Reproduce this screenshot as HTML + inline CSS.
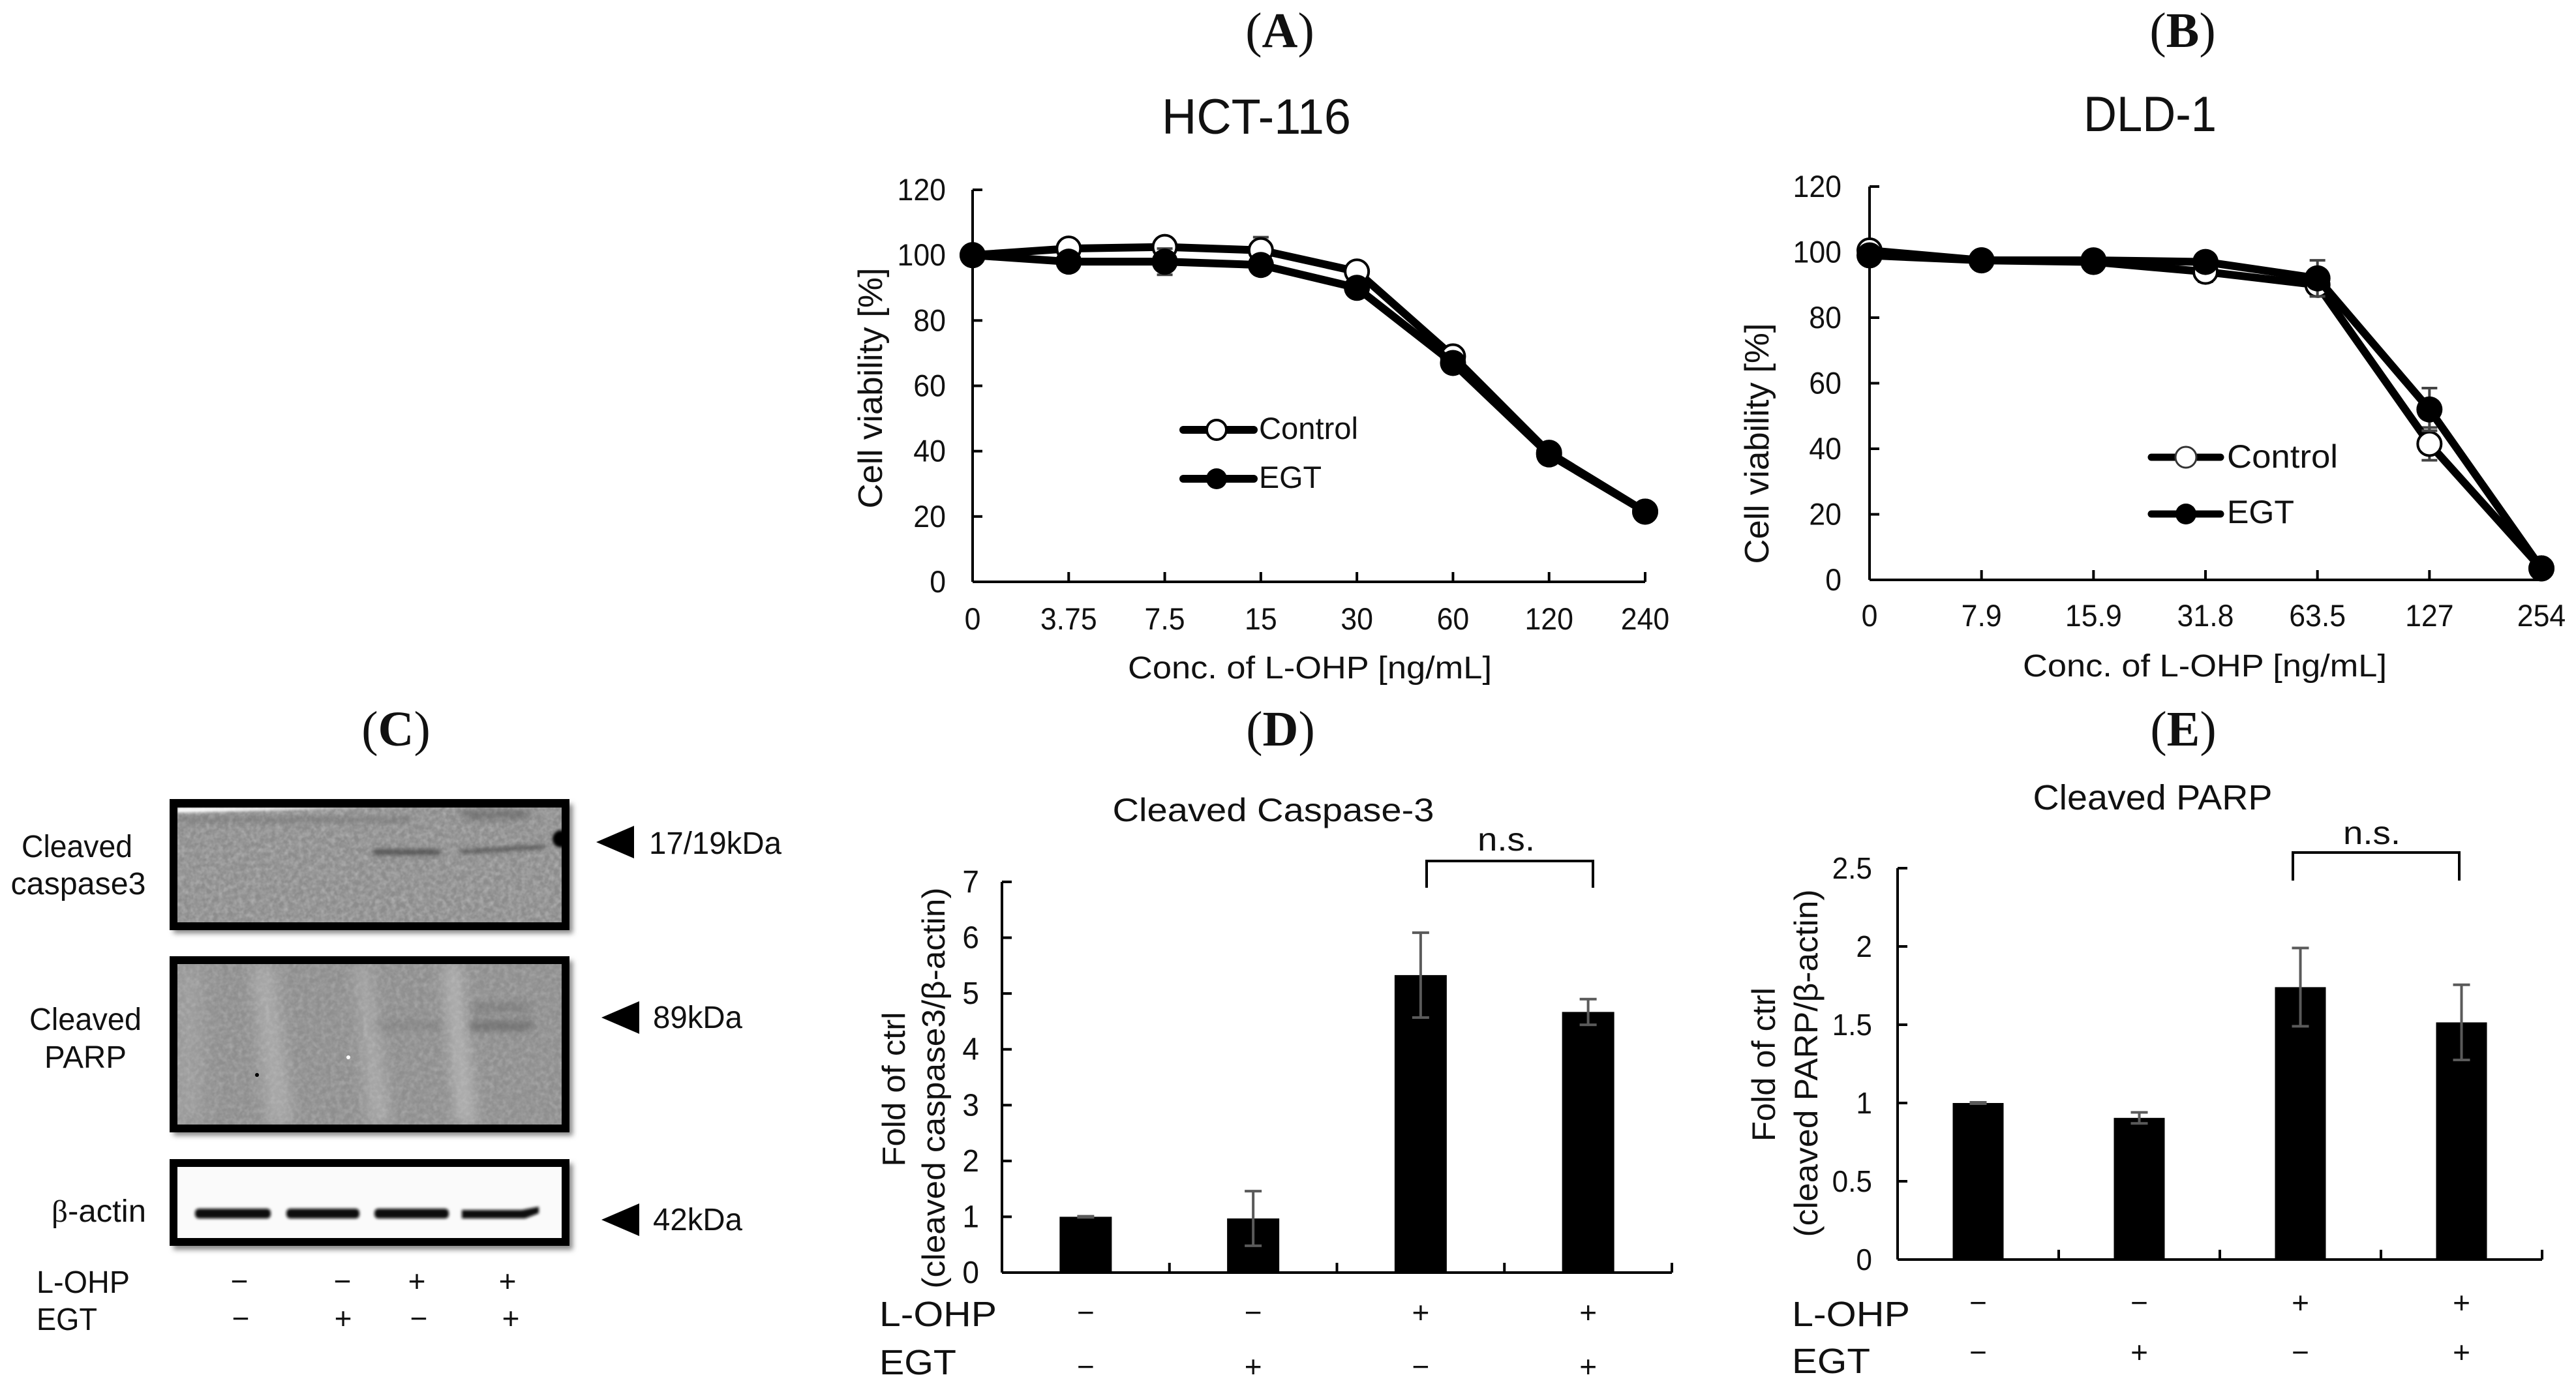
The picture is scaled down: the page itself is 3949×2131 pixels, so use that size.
<!DOCTYPE html>
<html lang="en">
<head>
<meta charset="utf-8">
<title>L-OHP cell viability and apoptosis markers</title>
<style>
html,body{margin:0;padding:0;background:#fff;}
body{width:3949px;height:2131px;overflow:hidden;}
svg{display:block;}
text{font-family:"Liberation Sans",Arial,sans-serif;fill:#111;}
.serif{font-family:"Liberation Serif","Times New Roman",serif;font-size:76px;}
.serif tspan.b{font-weight:bold;}
</style>
</head>
<body>
<svg id="fig" xmlns="http://www.w3.org/2000/svg" width="3949" height="2131" viewBox="0 0 3949 2131">
  <defs>
    <filter id="noise" x="0" y="0" width="100%" height="100%">
      <feTurbulence type="fractalNoise" baseFrequency="0.12" numOctaves="2" seed="4"/>
      <feColorMatrix type="matrix" values="0 0 0 0 0.42  0 0 0 0 0.42  0 0 0 0 0.42  1.8 0 0 0 -0.6"/>
    </filter>
    <filter id="noise2" x="0" y="0" width="100%" height="100%">
      <feTurbulence type="fractalNoise" baseFrequency="0.14" numOctaves="2" seed="9"/>
      <feColorMatrix type="matrix" values="0 0 0 0 0.72  0 0 0 0 0.72  0 0 0 0 0.72  1.4 0 0 0 -0.55"/>
    </filter>
    <filter id="blur2" filterUnits="userSpaceOnUse" x="0" y="1100" width="1000" height="900"><feGaussianBlur stdDeviation="2"/></filter>
    <filter id="blur3" filterUnits="userSpaceOnUse" x="0" y="1100" width="1000" height="900"><feGaussianBlur stdDeviation="3.5"/></filter>
    <filter id="blur4" filterUnits="userSpaceOnUse" x="0" y="1100" width="1000" height="900"><feGaussianBlur stdDeviation="4"/></filter>
    <filter id="blur6" filterUnits="userSpaceOnUse" x="0" y="1100" width="1000" height="900"><feGaussianBlur stdDeviation="6"/></filter>
    <filter id="blur8" filterUnits="userSpaceOnUse" x="0" y="1100" width="1000" height="900"><feGaussianBlur stdDeviation="11"/></filter>
    <filter id="blur14" filterUnits="userSpaceOnUse" x="0" y="1100" width="1000" height="900"><feGaussianBlur stdDeviation="16"/></filter>
    <clipPath id="clip1"><rect x="272" y="1238" width="589" height="176"/></clipPath>
    <clipPath id="clip2"><rect x="272" y="1478" width="589" height="246"/></clipPath>
    <clipPath id="clip3"><rect x="272" y="1789" width="589" height="109"/></clipPath>
  </defs>

  <!-- panel letters -->
  <text class="serif" x="1962" y="72" text-anchor="middle">(<tspan class="b">A</tspan>)</text>
  <text class="serif" x="3346" y="72" text-anchor="middle">(<tspan class="b">B</tspan>)</text>
  <text class="serif" x="607" y="1143" text-anchor="middle">(<tspan class="b">C</tspan>)</text>
  <text class="serif" x="1963" y="1143" text-anchor="middle">(<tspan class="b">D</tspan>)</text>
  <text class="serif" x="3347" y="1143" text-anchor="middle">(<tspan class="b">E</tspan>)</text>

  <!-- chart A static text -->
  <g id="chartA">
    <text x="1926" y="205" font-size="76" text-anchor="middle" textLength="290" lengthAdjust="spacingAndGlyphs">HCT-116</text>
    <text x="2008" y="1040" font-size="48" text-anchor="middle" textLength="558" lengthAdjust="spacingAndGlyphs">Conc. of L-OHP [ng/mL]</text>
    <text transform="translate(1352 595) rotate(-90)" font-size="52" text-anchor="middle" textLength="369" lengthAdjust="spacingAndGlyphs">Cell viability [%]</text>
    <g>
      <line x1="1814" y1="659" x2="1922" y2="659" stroke="#000" stroke-width="12" stroke-linecap="round"/>
      <circle cx="1865" cy="659" r="15" fill="#fff" stroke="#000" stroke-width="4"/>
      <text x="1930" y="673" font-size="47" textLength="152" lengthAdjust="spacingAndGlyphs">Control</text>
      <line x1="1814" y1="734" x2="1922" y2="734" stroke="#000" stroke-width="12" stroke-linecap="round"/>
      <circle cx="1865" cy="734" r="16" fill="#000"/>
      <text x="1930" y="748" font-size="47" textLength="96" lengthAdjust="spacingAndGlyphs">EGT</text>
    </g>
  </g>

  <!-- chart B static text -->
  <g id="chartB">
    <text x="3296" y="201" font-size="76" text-anchor="middle" textLength="204" lengthAdjust="spacingAndGlyphs">DLD-1</text>
    <text x="3380" y="1037" font-size="48" text-anchor="middle" textLength="558" lengthAdjust="spacingAndGlyphs">Conc. of L-OHP [ng/mL]</text>
    <text transform="translate(2711 680) rotate(-90)" font-size="52" text-anchor="middle" textLength="369" lengthAdjust="spacingAndGlyphs">Cell viability [%]</text>
    <g>
      <line x1="3298" y1="701" x2="3404" y2="701" stroke="#000" stroke-width="11" stroke-linecap="round"/>
      <circle cx="3351" cy="701" r="16" fill="#fff" stroke="#333" stroke-width="3"/>
      <text x="3414" y="717" font-size="50" textLength="170" lengthAdjust="spacingAndGlyphs">Control</text>
      <line x1="3298" y1="788" x2="3404" y2="788" stroke="#000" stroke-width="11" stroke-linecap="round"/>
      <circle cx="3351" cy="788" r="16" fill="#000"/>
      <text x="3414" y="802" font-size="50" textLength="103" lengthAdjust="spacingAndGlyphs">EGT</text>
    </g>
  </g>

  <!-- panel C: western blot -->
  <g>
    <g>
      <rect x="266" y="1233" width="612" height="198" fill="#888" filter="url(#blur4)"/>
      <rect x="260" y="1225" width="613" height="201" fill="#000"/>
      <g clip-path="url(#clip1)">
        <rect x="272" y="1238" width="589" height="176" fill="#8c8c8c"/>
        <rect x="272" y="1238" width="589" height="176" filter="url(#noise)" opacity=".6"/>
        <rect x="272" y="1238" width="589" height="176" filter="url(#noise2)" opacity=".45"/>
        <polygon points="272,1238 560,1238 272,1246" fill="#fff" filter="url(#blur2)"/>
        <rect x="272" y="1254" width="360" height="6" fill="#6a6a6a" filter="url(#blur4)" opacity=".6"/>
        <rect x="710" y="1244" width="100" height="10" fill="#5c5c5c" filter="url(#blur6)" opacity=".8"/>
        <rect x="572" y="1302" width="102" height="9" fill="#404040" filter="url(#blur3)" opacity=".75"/>
        <polygon points="707,1303 835,1295 835,1301 707,1309" fill="#3c3c3c" filter="url(#blur3)" opacity=".75"/>
        <circle cx="860" cy="1286" r="13" fill="#000" filter="url(#blur2)"/>
      </g>
    </g>
    <g>
      <rect x="266" y="1473" width="612" height="268" fill="#888" filter="url(#blur4)"/>
      <rect x="260" y="1466" width="613" height="270" fill="#000"/>
      <g clip-path="url(#clip2)">
        <rect x="272" y="1478" width="589" height="246" fill="#8e8e8e"/>
        <polygon points="385,1478 420,1478 450,1724 410,1724" fill="#a8a8a8" filter="url(#blur8)"/>
        <polygon points="545,1478 565,1478 600,1724 565,1724" fill="#a8a8a8" filter="url(#blur8)"/>
        <polygon points="680,1478 705,1478 730,1724 700,1724" fill="#b2b2b2" filter="url(#blur8)"/>
        <rect x="272" y="1478" width="35" height="246" fill="#a0a0a0" filter="url(#blur14)"/>
        <rect x="272" y="1478" width="589" height="246" filter="url(#noise)" opacity=".4"/>
        <rect x="272" y="1478" width="589" height="246" filter="url(#noise2)" opacity=".35"/>
        <rect x="722" y="1540" width="92" height="10" fill="#666" filter="url(#blur6)" opacity=".55"/>
        <rect x="720" y="1567" width="95" height="12" fill="#5a5a5a" filter="url(#blur6)" opacity=".7"/>
        <rect x="576" y="1568" width="100" height="9" fill="#6d6d6d" filter="url(#blur6)" opacity=".45"/>
        <circle cx="394" cy="1648" r="3" fill="#000"/>
        <circle cx="534" cy="1621" r="3" fill="#fff"/>
      </g>
    </g>
    <g>
      <rect x="266" y="1784" width="612" height="132" fill="#888" filter="url(#blur4)"/>
      <rect x="260" y="1777" width="613" height="133" fill="#000"/>
      <g clip-path="url(#clip3)">
        <rect x="272" y="1789" width="589" height="109" fill="#fafafa"/>
        <rect x="299" y="1853" width="116" height="15" rx="6" fill="#111" filter="url(#blur2)"/>
        <rect x="439" y="1853" width="112" height="15" rx="6" fill="#111" filter="url(#blur2)"/>
        <rect x="574" y="1853" width="114" height="15" rx="6" fill="#111" filter="url(#blur2)"/>
        <polygon points="708,1855 800,1855 826,1850 826,1860 805,1868 708,1868" fill="#111" filter="url(#blur2)"/>
      </g>
    </g>
    <text x="118" y="1314" font-size="48" text-anchor="middle" textLength="170" lengthAdjust="spacingAndGlyphs">Cleaved</text>
    <text x="120" y="1371" font-size="48" text-anchor="middle" textLength="207" lengthAdjust="spacingAndGlyphs">caspase3</text>
    <text x="131" y="1579" font-size="48" text-anchor="middle" textLength="172" lengthAdjust="spacingAndGlyphs">Cleaved</text>
    <text x="131" y="1637" font-size="48" text-anchor="middle" textLength="126" lengthAdjust="spacingAndGlyphs">PARP</text>
    <text x="79" y="1873" font-size="48" textLength="145" lengthAdjust="spacingAndGlyphs"><tspan font-family="Liberation Serif, serif">β</tspan>-actin</text>
    <polygon points="914,1291 972,1266 972,1316" fill="#000"/>
    <text x="995" y="1309" font-size="48" textLength="203" lengthAdjust="spacingAndGlyphs">17/19kDa</text>
    <polygon points="922,1560 980,1535 980,1585" fill="#000"/>
    <text x="1001" y="1576" font-size="48" textLength="137" lengthAdjust="spacingAndGlyphs">89kDa</text>
    <polygon points="922,1870 980,1845 980,1895" fill="#000"/>
    <text x="1001" y="1886" font-size="48" textLength="137" lengthAdjust="spacingAndGlyphs">42kDa</text>
    <text x="56" y="1982" font-size="48" textLength="143" lengthAdjust="spacingAndGlyphs">L-OHP</text>
    <text x="56" y="2039" font-size="48" textLength="93" lengthAdjust="spacingAndGlyphs">EGT</text>
    <g font-size="46" text-anchor="middle">
      <text x="367" y="1980">−</text>
      <text x="525" y="1980">−</text>
      <text x="639" y="1980">+</text>
      <text x="778" y="1980">+</text>
      <text x="369" y="2037">−</text>
      <text x="526" y="2037">+</text>
      <text x="642" y="2037">−</text>
      <text x="783" y="2037">+</text>
    </g>
  </g>

  <!-- chart D static text -->
  <g id="chartD">
    <text x="1952" y="1259" font-size="50" text-anchor="middle" textLength="493" lengthAdjust="spacingAndGlyphs">Cleaved Caspase-3</text>
    <text transform="translate(1387 1670) rotate(-90)" font-size="49" text-anchor="middle" textLength="237" lengthAdjust="spacingAndGlyphs">Fold of ctrl</text>
    <text transform="translate(1448 1668) rotate(-90)" font-size="49" text-anchor="middle" textLength="615" lengthAdjust="spacingAndGlyphs">(cleaved caspase3/β-actin)</text>
    <path d="M2187 1361V1320H2442V1361" fill="none" stroke="#000" stroke-width="4"/>
    <text x="2309" y="1304" font-size="50" text-anchor="middle" textLength="88" lengthAdjust="spacingAndGlyphs">n.s.</text>
    <text x="1348" y="2033" font-size="54" textLength="180" lengthAdjust="spacingAndGlyphs">L-OHP</text>
    <text x="1348" y="2107" font-size="54" textLength="118" lengthAdjust="spacingAndGlyphs">EGT</text>
  </g>

  <!-- chart E static text -->
  <g id="chartE">
    <text x="3300" y="1241" font-size="54" text-anchor="middle" textLength="367" lengthAdjust="spacingAndGlyphs">Cleaved PARP</text>
    <text transform="translate(2721 1632) rotate(-90)" font-size="50" text-anchor="middle" textLength="236" lengthAdjust="spacingAndGlyphs">Fold of ctrl</text>
    <text transform="translate(2786 1630) rotate(-90)" font-size="50" text-anchor="middle" textLength="533" lengthAdjust="spacingAndGlyphs">(cleaved PARP/β-actin)</text>
    <path d="M3515 1350V1307H3770V1350" fill="none" stroke="#000" stroke-width="4"/>
    <text x="3636" y="1294" font-size="50" text-anchor="middle" textLength="88" lengthAdjust="spacingAndGlyphs">n.s.</text>
    <text x="2747" y="2033" font-size="54" textLength="181" lengthAdjust="spacingAndGlyphs">L-OHP</text>
    <text x="2747" y="2105" font-size="54" textLength="120" lengthAdjust="spacingAndGlyphs">EGT</text>
  </g>
</svg>

<script>
// Chart A: HCT-116 viability
const hctConcLabels = ['0','3.75','7.5','15','30','60','120','240'];
const hctControl = [100,102,102.5,101.5,95,69,39.5,21.5];
const hctControlErr = [1,1.5,2,4,1.5,1,1,1];
const hctEgt = [100,98,98,97,90,67,39,21.5];
const hctEgtErr = [1,1.5,4,1.5,1.5,1,1,1];
const hctYTicks = [0,20,40,60,80,100,120];

// Chart B: DLD-1 viability
const dldConcLabels = ['0','7.9','15.9','31.8','63.5','127','254'];
const dldControl = [100.5,97.5,97,94,90,41.5,3.5];
const dldControlErr = [2.5,1,1,3,3.5,5,1];
const dldEgt = [99,97.5,97.5,97,92,52,3.5];
const dldEgtErr = [1,1,1,1.5,5.5,6.5,1];
const dldYTicks = [0,20,40,60,80,100,120];

// Chart D: cleaved caspase-3
const casValues = [1,0.97,5.33,4.67];
const casErrors = [0.01,0.49,0.76,0.23];
const casYTicks = [0,1,2,3,4,5,6,7];
const casLohp = ['−','−','+','+'];
const casEgt = ['−','+','−','+'];

// Chart E: cleaved PARP
const parpValues = [1,0.905,1.74,1.515];
const parpErrors = [0.004,0.035,0.25,0.24];
const parpYTicks = [0,0.5,1,1.5,2,2.5];
const parpLohp = ['−','−','+','+'];
const parpEgt = ['−','+','−','+'];

const NS = 'http://www.w3.org/2000/svg';
function mk(parent, tag, attrs, content) {
  const el = document.createElementNS(NS, tag);
  for (const k in attrs) el.setAttribute(k, attrs[k]);
  if (content !== undefined) el.textContent = content;
  parent.appendChild(el);
  return el;
}

// Narrow a label horizontally so tall glyphs keep the reference's width.
function fit(el, factor) {
  el.setAttribute('textLength', (el.getComputedTextLength() * factor).toFixed(1));
  el.setAttribute('lengthAdjust', 'spacingAndGlyphs');
}

function yAxis(parent, cfg, ticks, yOf) {
  const axis = mk(parent, 'line', {x1: cfg.x0, y1: yOf(ticks[ticks.length - 1]), x2: cfg.x0, y2: cfg.y0, stroke: '#000', 'stroke-width': 4});
  
  
  ticks.forEach(function (t) {
    const tick = mk(parent, 'line', {x1: cfg.x0, y1: yOf(t), x2: cfg.x0 + 15, y2: yOf(t), stroke: '#000', 'stroke-width': 4});
    
    
    const label = mk(parent, 'text', {x: cfg.yLabelX, y: yOf(t) + 16, 'font-size': cfg.fontSize, 'text-anchor': 'end'}, String(t));
    
    
    fit(label, cfg.fit);
  });
}

function lineChart(parent, cfg, cats, ctrl, ctrlErr, egt, egtErr, ticks) {
  const top = ticks[ticks.length - 1];
  const xOf = function (i) { return cfg.x0 + i * (cfg.x1 - cfg.x0) / (cats.length - 1); };
  const yOf = function (v) { return cfg.y0 - v * (cfg.y0 - cfg.yTop) / top; };
  yAxis(parent, cfg, ticks, yOf);
  const base = mk(parent, 'line', {x1: cfg.x0, y1: cfg.y0, x2: cfg.x1, y2: cfg.y0, stroke: '#000', 'stroke-width': 4});
  
  
  cats.forEach(function (c, i) {
    const tick = mk(parent, 'line', {x1: xOf(i), y1: cfg.y0, x2: xOf(i), y2: cfg.y0 - 15, stroke: '#000', 'stroke-width': 4});
    
    
    const label = mk(parent, 'text', {x: xOf(i), y: cfg.xLabelY, 'font-size': cfg.fontSize, 'text-anchor': 'middle'}, c);
    
    
    fit(label, cfg.fit);
  });
  [[ctrl, ctrlErr, 'control'], [egt, egtErr, 'egt']].forEach(function (s) {
    const vals = s[0], errs = s[1], kind = s[2];
    const pts = vals.map(function (v, i) { return xOf(i) + ',' + yOf(v); }).join(' ');
    vals.forEach(function (v, i) {
      const d = 'M' + xOf(i) + ' ' + yOf(v + errs[i]) + 'V' + yOf(v - errs[i]) +
        'M' + (xOf(i) - 12) + ' ' + yOf(v + errs[i]) + 'h24' +
        'M' + (xOf(i) - 12) + ' ' + yOf(v - errs[i]) + 'h24';
      const eb = mk(parent, 'path', {d: d, stroke: '#444', 'stroke-width': 4, fill: 'none'});
      
      
    });
    const line = mk(parent, 'polyline', {points: pts, fill: 'none', stroke: '#000', 'stroke-width': 12, 'stroke-linejoin': 'round'});
    
    
    vals.forEach(function (v, i) {
      const open = kind === 'control';
      const m = mk(parent, 'circle', {cx: xOf(i), cy: yOf(v), r: open ? 18 : 20, fill: open ? '#fff' : '#000', stroke: '#000', 'stroke-width': open ? 4 : 0});
      
      
    });
  });
}

function barChart(parent, cfg, vals, errs, ticks, row1, row2) {
  const top = ticks[ticks.length - 1];
  const step = (cfg.x1 - cfg.x0) / vals.length;
  const xOf = function (i) { return cfg.x0 + (i + 0.5) * step; };
  const yOf = function (v) { return cfg.y0 - v * (cfg.y0 - cfg.yTop) / top; };
  yAxis(parent, cfg, ticks, yOf);
  vals.forEach(function (v, i) {
    const bar = mk(parent, 'rect', {x: xOf(i) - cfg.barW / 2, y: yOf(v), width: cfg.barW, height: cfg.y0 - yOf(v), fill: '#000'});
    
    
    const d = 'M' + xOf(i) + ' ' + yOf(v + errs[i]) + 'V' + yOf(v - errs[i]) +
      'M' + (xOf(i) - 13) + ' ' + yOf(v + errs[i]) + 'h26' +
      'M' + (xOf(i) - 13) + ' ' + yOf(v - errs[i]) + 'h26';
    const eb = mk(parent, 'path', {d: d, stroke: '#5a5a5a', 'stroke-width': 4, fill: 'none'});
    
    
    const s1 = mk(parent, 'text', {x: xOf(i), y: cfg.row1Y, 'font-size': 46, 'text-anchor': 'middle'}, row1[i]);
    
    
    const s2 = mk(parent, 'text', {x: xOf(i), y: cfg.row2Y, 'font-size': 46, 'text-anchor': 'middle'}, row2[i]);
    
    
  });
  const base = mk(parent, 'line', {x1: cfg.x0, y1: cfg.y0, x2: cfg.x1, y2: cfg.y0, stroke: '#000', 'stroke-width': 4});
  
  
  for (let i = 1; i <= vals.length; i++) {
    const tick = mk(parent, 'line', {x1: cfg.x0 + i * step, y1: cfg.y0, x2: cfg.x0 + i * step, y2: cfg.y0 - 15, stroke: '#000', 'stroke-width': 4});
    
    
  }
}

lineChart(document.getElementById('chartA'),
  {x0: 1491, x1: 2522, y0: 892, yTop: 291, yLabelX: 1450, xLabelY: 965, fontSize: 47, fit: 0.95},
  hctConcLabels, hctControl, hctControlErr, hctEgt, hctEgtErr, hctYTicks);
lineChart(document.getElementById('chartB'),
  {x0: 2866, x1: 3896, y0: 889, yTop: 286, yLabelX: 2823, xLabelY: 960, fontSize: 47, fit: 0.95},
  dldConcLabels, dldControl, dldControlErr, dldEgt, dldEgtErr, dldYTicks);
barChart(document.getElementById('chartD'),
  {x0: 1536, x1: 2563, y0: 1951, yTop: 1352, yLabelX: 1501, fontSize: 48, fit: 0.96, barW: 80, row1Y: 2028, row2Y: 2111},
  casValues, casErrors, casYTicks, casLohp, casEgt);
barChart(document.getElementById('chartE'),
  {x0: 2909, x1: 3897, y0: 1931, yTop: 1331, yLabelX: 2870, fontSize: 46, fit: 0.96, barW: 78, row1Y: 2013, row2Y: 2089},
  parpValues, parpErrors, parpYTicks, parpLohp, parpEgt);
</script>
</body>
</html>
